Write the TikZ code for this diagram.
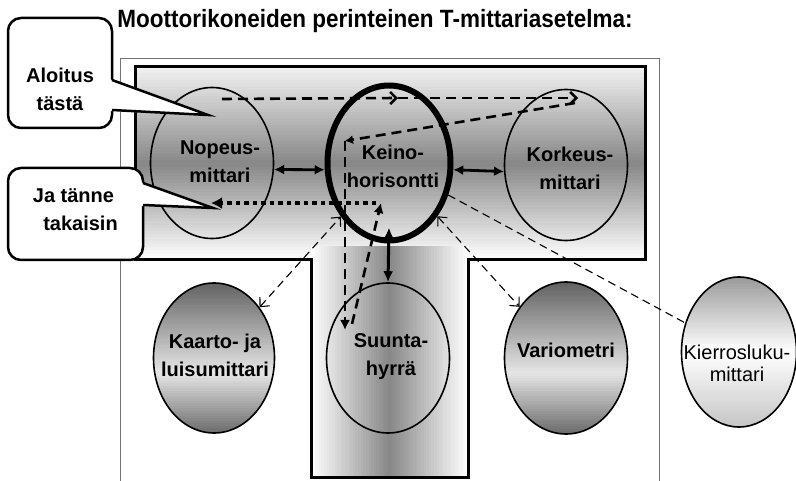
\documentclass[tikz,border=0pt]{standalone}
\usepackage{fontspec}
\setmainfont{Liberation Sans}
\usetikzlibrary{shapes.geometric,arrows.meta}
% vertical gradient by strips: x0,y0,x1,y1, darkness expression in \mygt (0 at top, 1 at bottom)
\newcommand{\myvstrips}[5]{%
  \foreach \i in {0,...,59} {
    \pgfmathsetmacro{\mygt}{(\i+0.5)/60}
    \pgfmathsetmacro{\mydd}{max(0,min(100,#5))}
    \fill[black!\mydd] (#1,{#2+\i*(#4-#2)/60}) rectangle (#3,{#2+(\i+1)*(#4-#2)/60+0.6});
  }}
% horizontal gradient by strips
\newcommand{\myhstrips}[5]{%
  \foreach \i in {0,...,59} {
    \pgfmathsetmacro{\mygt}{(\i+0.5)/60}
    \pgfmathsetmacro{\mydd}{max(0,min(100,#5))}
    \fill[black!\mydd] ({#1+\i*(#3-#1)/60},#2) rectangle ({#1+(\i+1)*(#3-#1)/60+0.6},#4);
  }}
\begin{document}
\begin{tikzpicture}[x=1pt,y=-1pt,
  ell/.style={ellipse, draw, line width=1.6pt, inner sep=0pt},
  lbl/.style={font=\fontsize{20}{28}\selectfont\bfseries, align=center, inner sep=0pt},
  callbox/.style={draw, fill=white, line width=2.5pt, rounded corners=13pt, inner sep=0pt},
  callwedge/.style={line width=2.5pt, line join=miter},
  dbl/.style={line width=2.8pt, {Latex[length=10pt,width=10pt]}-{Latex[length=10pt,width=10pt]}},
  thinlink/.style={line width=1.1pt, dash pattern=on 8pt off 5pt},
  thinarrow/.style={thinlink, {Straight Barb[length=7pt,width=13pt]}-{Straight Barb[length=7pt,width=13pt]}},
  scan/.style={line width=2.6pt, dash pattern=on 10pt off 6pt},
  chev/.style={-{Straight Barb[length=6pt,width=12pt]}},
  back/.style={line width=4.5pt, dash pattern=on 4.5pt off 4pt, -{Latex[length=11pt,width=12pt]}}
]
\useasboundingbox (0,0) rectangle (796,481);
\fill[white] (0,0) rectangle (796,481);

% outer frame
\draw[black!55, line width=1pt] (120,481) -- (120,59) -- (659,59) -- (659,481);

% T shape: bar
\myvstrips{135}{67}{645}{260}{\mygt<0.5 ? 5+84*\mygt : 94*(1-\mygt)}
\draw[line width=3pt] (135,67) rectangle (645,260);
% T shape: stem
\myhstrips{311}{246}{468}{477}{\mygt<0.5 ? 94*\mygt : 94*(1-\mygt)}
\fill[white] (311,477) rectangle (469,481);
\draw[line width=3pt] (311,258.5) -- (311,477) -- (468,477) -- (468,258.5);

% shaded ellipse interiors
\begin{scope}
  \clip (214,358) ellipse [x radius=60.5, y radius=75];
  \myvstrips{150}{283}{280}{433}{\mygt<0.6 ? 62-52*\mygt/0.6 : 10+48*(\mygt-0.6)/0.4}
\end{scope}
\begin{scope}
  \clip (566,358) ellipse [x radius=61.5, y radius=76];
  \myvstrips{500}{282}{632}{434}{\mygt<0.6 ? 62-52*\mygt/0.6 : 10+48*(\mygt-0.6)/0.4}
\end{scope}
\begin{scope}
  \clip (739,352) ellipse [x radius=57.5, y radius=75];
  \myvstrips{678}{277}{800}{427}{\mygt<0.5 ? 40-80*\mygt : 45*(\mygt-0.5)}
\end{scope}

% ellipses
\node[ell, minimum width=123pt, minimum height=151pt] (nop) at (212,163) {};
\node[ell, line width=6pt, minimum width=123pt, minimum height=155pt] (kei) at (389,163) {};
\node[ell, minimum width=123pt, minimum height=151pt] (kor) at (566,165) {};
\node[ell, minimum width=121pt, minimum height=150pt] (kaa) at (214,358) {};
\node[ell, minimum width=123pt, minimum height=150pt] (suu) at (388,358) {};
\node[ell, minimum width=123pt, minimum height=152pt] (var) at (566,358) {};
\node[ell, minimum width=115pt, minimum height=150pt] (kie) at (739,352) {};

% connectors
\draw[dbl] (nop.-6) -- (kei.186);
\draw[dbl] (kei.-6) -- (kor.186);
\draw[line width=3pt, {Latex[length=11pt,width=10pt]}-{Latex[length=11pt,width=10pt]}] ([yshift=16pt]kei.south) -- (suu.north);
\draw[thinarrow] (kaa) -- (kei);
\draw[thinarrow] (kei) -- (var);
\draw[thinlink] (kei) -- (kie);

% scan path
\coordinate (s0) at (222,99);
\coordinate (s1) at (398,98);
\coordinate (s2) at (578,98);
\coordinate (s2b) at (575,103);
\coordinate (s3) at (345,141);
\coordinate (s4) at (345,330);
\coordinate (s5) at (352,324);
\coordinate (s6) at (381,203);
\coordinate (s7) at (376,203);
\coordinate (s8) at (211,203);
\draw[scan, chev] (s0) -- (s1);
\draw[scan, chev] (s1) -- (s2);
\draw[scan, -{Latex[length=8pt,width=9pt]}] (s2b) -- (s3);
\draw[scan, -{Latex[length=10pt,width=10pt]}] (s3) -- (s4);
\draw[scan, -{Latex[length=10pt,width=10pt]}] (s5) -- (s6);
\draw[back] (s7) -- (s8);

% callouts
\node[callbox, minimum width=104pt, minimum height=110pt] (alo) at (60,73) {};
\fill[white] (109,79) -- (208,115) -- (109,111) -- cycle;
\draw[callwedge] (112,80) -- (208,115) -- (112,110);
\node[callbox, minimum width=135pt, minimum height=92pt] (jat) at (75.5,214) {};
\fill[white] (140,182) -- (213,208) -- (140,206) -- cycle;
\draw[callwedge] (143,183) -- (213,208) -- (143,205);

% texts
\node[font=\fontsize{25}{30}\selectfont\bfseries, anchor=base, inner sep=0pt] (title) at (375,28) {\scalebox{0.9}[1]{Moottorikoneiden perinteinen T-mittariasetelma:}};
\node[lbl] (altxt) at (60,89) {Aloitus\\tästä};
\node[lbl] (jatxt) at (73.5,210) {Ja tänne\\\hspace*{14pt}takaisin};
\node[lbl] (noptxt) at (220,162) {Nopeus-\\mittari};
\node[lbl] (keitxt) at (393,166) {Keino-\\horisontti};
\node[lbl] (kortxt) at (570,168) {Korkeus-\\mittari};
\node[lbl] (kaatxt) at (215,355) {Kaarto- ja\\luisumittari};
\node[lbl] (suutxt) at (391,357) {Suunta-\\hyrrä};
\node[lbl] (vartxt) at (566,350) {Variometri};
\node[lbl, font=\fontsize{20}{22}\selectfont\mdseries] (kietxt) at (737,363) {Kierrosluku-\\mittari};
\end{tikzpicture}
\end{document}
